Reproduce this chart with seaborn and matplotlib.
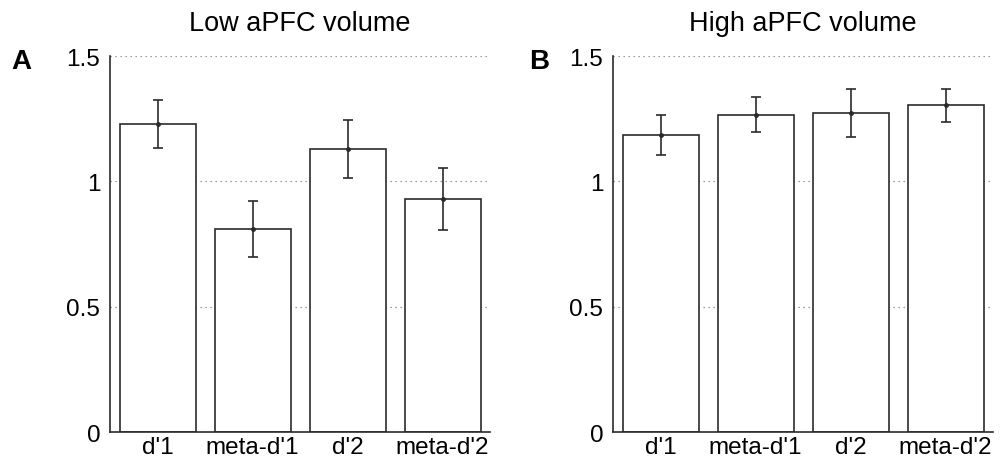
import matplotlib
matplotlib.use("Agg")
import matplotlib.pyplot as plt
import seaborn as sns
import pandas as pd
import numpy as np

categories = ["d'1", "meta-d'1", "d'2", "meta-d'2"]
low_values = [1.23, 0.81, 1.13, 0.93]
low_errors = [0.097, 0.113, 0.117, 0.123]
high_values = [1.186, 1.267, 1.272, 1.304]
high_errors = [0.08, 0.07, 0.095, 0.066]
titles = ["Low aPFC volume", "High aPFC volume"]
panel_labels = ["A", "B"]
yticks = [0, 0.5, 1, 1.5]
ytick_labels = ["0", "0.5", "1", "1.5"]

sns.set_theme(style="white")
plt.rcParams['font.family'] = ['Liberation Sans', 'DejaVu Sans']

fig = plt.figure(figsize=(10.03, 4.64), dpi=100)
axA = fig.add_axes([0.1097, 0.0668, 0.3789, 0.810])
axB = fig.add_axes([0.6112, 0.0668, 0.3789, 0.810])

edge = '#2b2b2b'
for ax, vals, errs, title in [(axA, low_values, low_errors, titles[0]),
                              (axB, high_values, high_errors, titles[1])]:
    df = pd.DataFrame({"cat": categories, "val": vals})
    for y in [0.5, 1.0, 1.5]:
        ax.axhline(y, color='#808080', linestyle=(0, (1, 3)), linewidth=0.9, zorder=0)
    sns.barplot(data=df, x="cat", y="val", ax=ax, color='white', edgecolor=edge,
                linewidth=1.2, width=0.8, saturation=1, errorbar=None, zorder=2)
    ax.errorbar(np.arange(len(categories)), vals, yerr=errs, fmt='o', color=edge,
                ecolor=edge, elinewidth=1.2, capsize=3.6, capthick=1.2, markersize=2.5, zorder=3)
    ax.set_xlim(-0.5, 3.5)
    ax.set_ylim(0, 1.5)
    ax.set_yticks(yticks)
    ax.set_yticklabels(ytick_labels)
    ax.set_xlabel("")
    ax.set_ylabel("")
    ax.tick_params(axis='both', length=0, labelsize=17.5, colors='black')
    ax.tick_params(axis='y', pad=7)
    ax.tick_params(axis='x', pad=3)
    for s in ['top', 'right']:
        ax.spines[s].set_visible(False)
    for s in ['left', 'bottom']:
        ax.spines[s].set_color(edge)
        ax.spines[s].set_linewidth(1.2)
    ax.set_title(title, fontsize=19.5, pad=19, color='black')

fig.text(0.011, 0.852, panel_labels[0], fontsize=20, fontweight='bold', color='black',
         ha='left', va='baseline')
fig.text(0.528, 0.852, panel_labels[1], fontsize=20, fontweight='bold', color='black',
         ha='left', va='baseline')

fig.savefig("out.png", dpi=100, facecolor='white')
